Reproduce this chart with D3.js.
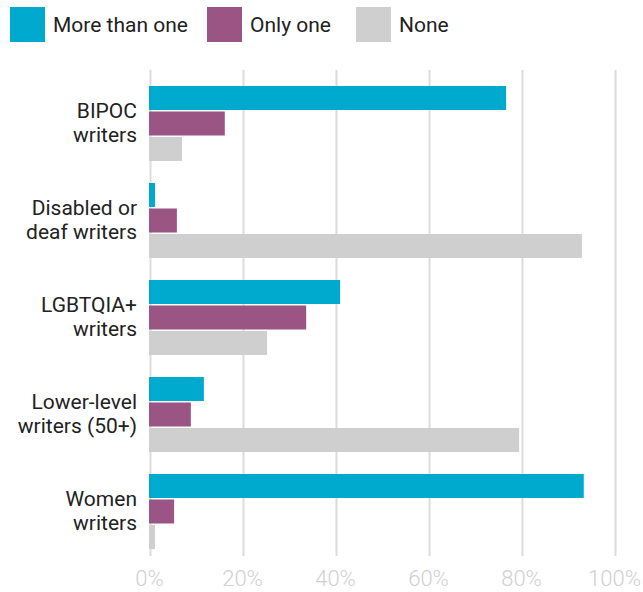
<!DOCTYPE html>
<html>
<head>
<meta charset="utf-8">
<script src="https://cdn.jsdelivr.net/npm/d3@7"></script>
<style>
  html, body { margin: 0; padding: 0; background: #fff; }
  svg { display: block; font-family: Roboto, "Noto Sans", sans-serif; }
</style>
</head>
<body>
<svg id="chart" width="643" height="592"></svg>
<script>
// Share of writers' rooms with more than one / only one / no writer from each group
const categories = [
  ["BIPOC", "writers"],
  ["Disabled or", "deaf writers"],
  ["LGBTQIA+", "writers"],
  ["Lower-level", "writers (50+)"],
  ["Women", "writers"]
];
const seriesNames = ["More than one", "Only one", "None"];
const moreThanOne = [76.8, 1.3, 41.1, 11.8, 93.5];
const onlyOne = [16.3, 6.0, 33.8, 9.0, 5.4];
const none = [7.1, 93.1, 25.4, 79.6, 1.3];
const tickValues = [0, 20, 40, 60, 80, 100];
const colors = ["#00aacf", "#9a5585", "#cfcfcf"];

const seriesValues = [moreThanOne, onlyOne, none];
const catKeys = categories.map(c => c.join(" "));

const svg = d3.select("#chart");

const x = d3.scaleLinear().domain([0, 100]).range([149, 614]);
const y0 = d3.scaleBand().domain(catKeys).range([75, 560]);
const y1 = d3.scaleBand().domain(seriesNames).range([11, 86]).paddingInner(0.0588);
const color = d3.scaleOrdinal().domain(seriesNames).range(colors);

// Vertical gridlines and percentage labels
const axis = d3.axisBottom(x)
  .tickValues(tickValues)
  .tickFormat(d => d + "%")
  .tickSize(-486)
  .tickPadding(14);

const gAxis = svg.append("g")
  .attr("transform", "translate(0,556)")
  .call(axis);
gAxis.select(".domain").remove();
gAxis.selectAll(".tick line")
  .attr("stroke", "#dcdcdc")
  .attr("stroke-width", 2)
  .attr("transform", "translate(1,0)");
gAxis.selectAll(".tick text")
  .attr("fill", "#d0d0d0")
  .attr("font-size", 22)
  .attr("font-weight", 300)
  .attr("font-family", "Roboto, sans-serif");

// Bars
const groups = svg.append("g")
  .selectAll("g")
  .data(catKeys)
  .join("g")
  .attr("transform", d => `translate(0,${y0(d)})`);

groups.selectAll("rect")
  .data((d, i) => seriesNames.map((s, j) => ({ series: s, value: seriesValues[j][i] })))
  .join("rect")
  .attr("x", x(0))
  .attr("y", d => y1(d.series))
  .attr("width", d => x(d.value) - x(0))
  .attr("height", y1.bandwidth())
  .attr("fill", d => color(d.series));

// Category labels (two lines each)
const labels = svg.append("g")
  .selectAll("text")
  .data(categories)
  .join("text")
  .attr("text-anchor", "end")
  .attr("x", 137)
  .attr("y", (d, i) => y0(catKeys[i]) + y0.bandwidth() / 2)
  .attr("fill", "#222")
  .attr("font-size", 21);
labels.selectAll("tspan")
  .data(d => d)
  .join("tspan")
  .attr("x", 137)
  .attr("dy", (d, i) => i === 0 ? -5.5 : 23.5)
  .text(d => d);

// Legend
const legendX = [10, 207, 356];
const legend = svg.append("g")
  .selectAll("g")
  .data(seriesNames)
  .join("g")
  .attr("transform", (d, i) => `translate(${legendX[i]},7)`);
legend.append("rect")
  .attr("width", 35)
  .attr("height", 35)
  .attr("fill", d => color(d));
legend.append("text")
  .attr("x", 43)
  .attr("y", 24.5)
  .attr("fill", "#222")
  .attr("font-size", 21)
  .text(d => d);
</script>
</body>
</html>
